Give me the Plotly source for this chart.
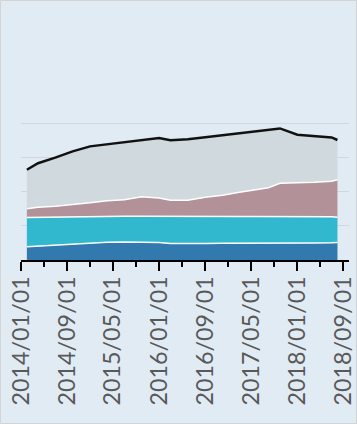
import plotly.graph_objects as go

dates = ["2014-02-01", "2014-04-01", "2014-07-01", "2014-10-01", "2015-01-01", "2015-04-01",
         "2015-07-01", "2015-10-01", "2016-01-01", "2016-03-01", "2016-06-01", "2016-09-01",
         "2016-12-01", "2017-03-01", "2017-06-01", "2017-08-01", "2017-10-01", "2018-01-01",
         "2018-04-01", "2018-07-01", "2018-08-01"]
series_a = [19.4, 20.4, 21.9, 23.4, 24.8, 26.0, 26.4, 26.3, 25.6, 24.2, 23.8, 24.1, 24.5, 24.8,
            25.0, 25.0, 25.0, 25.0, 25.0, 25.2, 25.7]
series_b = [42.8, 42.1, 40.9, 39.6, 38.4, 37.5, 37.4, 37.7, 38.2, 39.2, 39.4, 39.3, 39.1, 38.8,
            38.6, 38.6, 38.6, 38.6, 38.6, 38.0, 36.7]
series_c = [12.7, 14.6, 15.7, 17.7, 20.3, 23.1, 24.2, 28.4, 26.7, 23.9, 24.1, 28.3, 31.0, 35.4,
            39.0, 42.0, 48.5, 48.8, 50.0, 51.8, 54.8]
series_d = [56.9, 64.2, 70.9, 77.9, 82.4, 82.5, 83.6, 82.5, 87.6, 87.6, 89.1, 87.6, 87.6, 85.4,
            85.4, 84.6, 80.0, 70.5, 67.4, 64.0, 58.0]
total = [131.8, 141.3, 149.4, 158.6, 165.9, 169.1, 171.6, 174.9, 178.1, 174.9, 176.4, 179.3,
         182.2, 184.4, 188.0, 190.2, 192.1, 182.9, 181.0, 179.0, 175.2]

colors = ["#3279b0", "#31b8cf", "#b39199", "#cfd9de"]
W, H = 357, 424
L, R, T, B = 21, 8, 122, 164

fig = go.Figure()
for vals, col in zip([series_a, series_b, series_c, series_d], colors):
    fig.add_trace(go.Scatter(x=dates, y=vals, stackgroup="one", mode="lines",
                             line=dict(color="white", width=1.5), fillcolor=col,
                             hoverinfo="skip", showlegend=False))
fig.add_trace(go.Scatter(x=dates, y=total, mode="lines",
                         line=dict(color="#111111", width=2.5),
                         hoverinfo="skip", showlegend=False))

pw = W - L - R
ph = H - T - B
fig.add_shape(type="rect", xref="paper", yref="paper",
              x0=-(L - 0.5) / pw, x1=(W - L - 0.5) / pw,
              y0=-(B - 0.5) / ph, y1=1 + (T - 0.5) / ph,
              line=dict(color="#d4d4d4", width=1), fillcolor="rgba(0,0,0,0)", layer="above")

fig.update_layout(
    width=W, height=H,
    margin=dict(l=L, r=R, t=T, b=B, autoexpand=False),
    paper_bgcolor="#e1ebf4", plot_bgcolor="#e1ebf4",
    showlegend=False,
    xaxis=dict(type="date", range=["2014-01-01", "2018-10-01"], automargin=False,
               tick0="2014-01-01", dtick="M8", tickformat="%Y/%m/%d",
               tickangle=-90, ticks="outside", ticklen=9, tickwidth=2, tickcolor="black",
               ticklabelstandoff=-4,
               showline=True, linecolor="black", linewidth=2, showgrid=False,
               tickfont=dict(family="Lato", size=23.3, color="#595959"),
               minor=dict(dtick="M4", ticks="outside", ticklen=5, tickwidth=2,
                          tickcolor="black", showgrid=False)),
    yaxis=dict(range=[0, 201.5], dtick=50, showticklabels=False, showgrid=True, automargin=False,
               gridcolor="#d3d7db", gridwidth=1, zeroline=False, showline=False),
)
fig.write_html("out.html", config={"displayModeBar": False},
               post_script="document.body.style.margin='0';document.body.style.overflow='hidden';")
